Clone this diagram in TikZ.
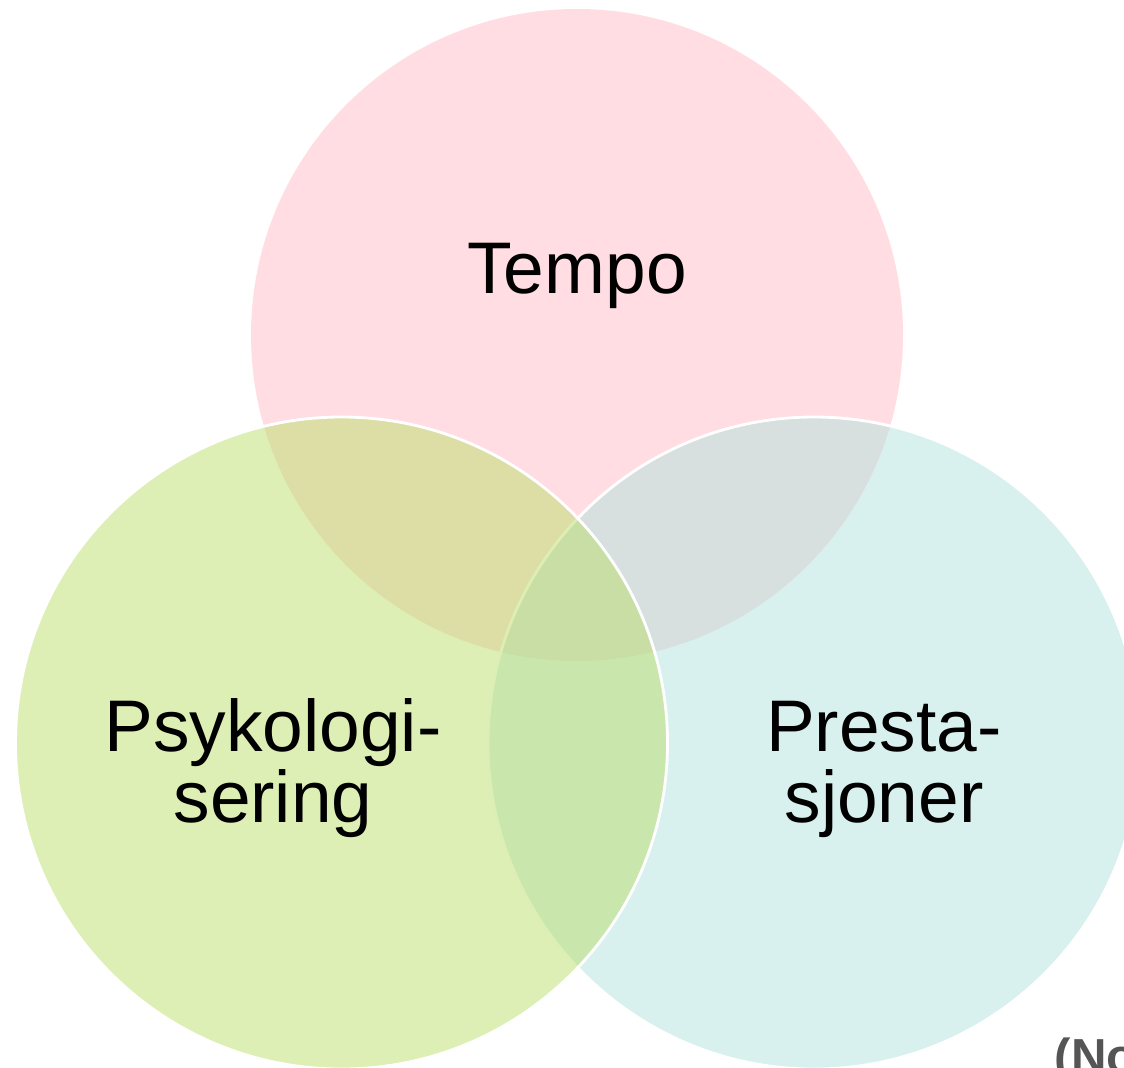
\documentclass[tikz,border=0pt]{standalone}
\usepackage{fontspec}
\setmainfont{Liberation Sans}
\usepackage{tikz}
\definecolor{rosa}{RGB}{255,187,197}
\definecolor{gronn}{RGB}{187,223,107}
\definecolor{turkis}{RGB}{177,225,221}
\definecolor{kildegraa}{RGB}{85,85,85}
\tikzset{sirkel/.style={fill opacity=.5, draw=white, line width=.8pt}}
\tikzset{etikett/.style={align=center, anchor=base, font=\fontsize{20.8pt}{20.2pt}\selectfont}}

\begin{document}
\begin{tikzpicture}
    \useasboundingbox (0, 0) rectangle (11.24, 10.67);
    \clip (0, 0) rectangle (11.24, 10.67);
    % three sets
    \fill[rosa, fill opacity=.5](5.77, 7.32) circle (3.26);
    \draw[sirkel, fill=turkis](8.14, 3.24) circle (3.26);
    \draw[sirkel, fill=gronn](3.415, 3.24) circle (3.26);
    \node[etikett] (tempo) at (5.77, 7.74) {Tempo};
    \node[etikett] (psyk) at (2.73, 2.45) {Psykologi-\\sering};
    \node[etikett] (presta) at (8.84, 2.45) {Presta-\\sjoner};
    \node[anchor=base west, inner sep=0pt, text=kildegraa, font=\fontsize{14pt}{16pt}\selectfont\bfseries] (kilde) at (10.54, -.06) {(No};
\end{tikzpicture}
\end{document}
